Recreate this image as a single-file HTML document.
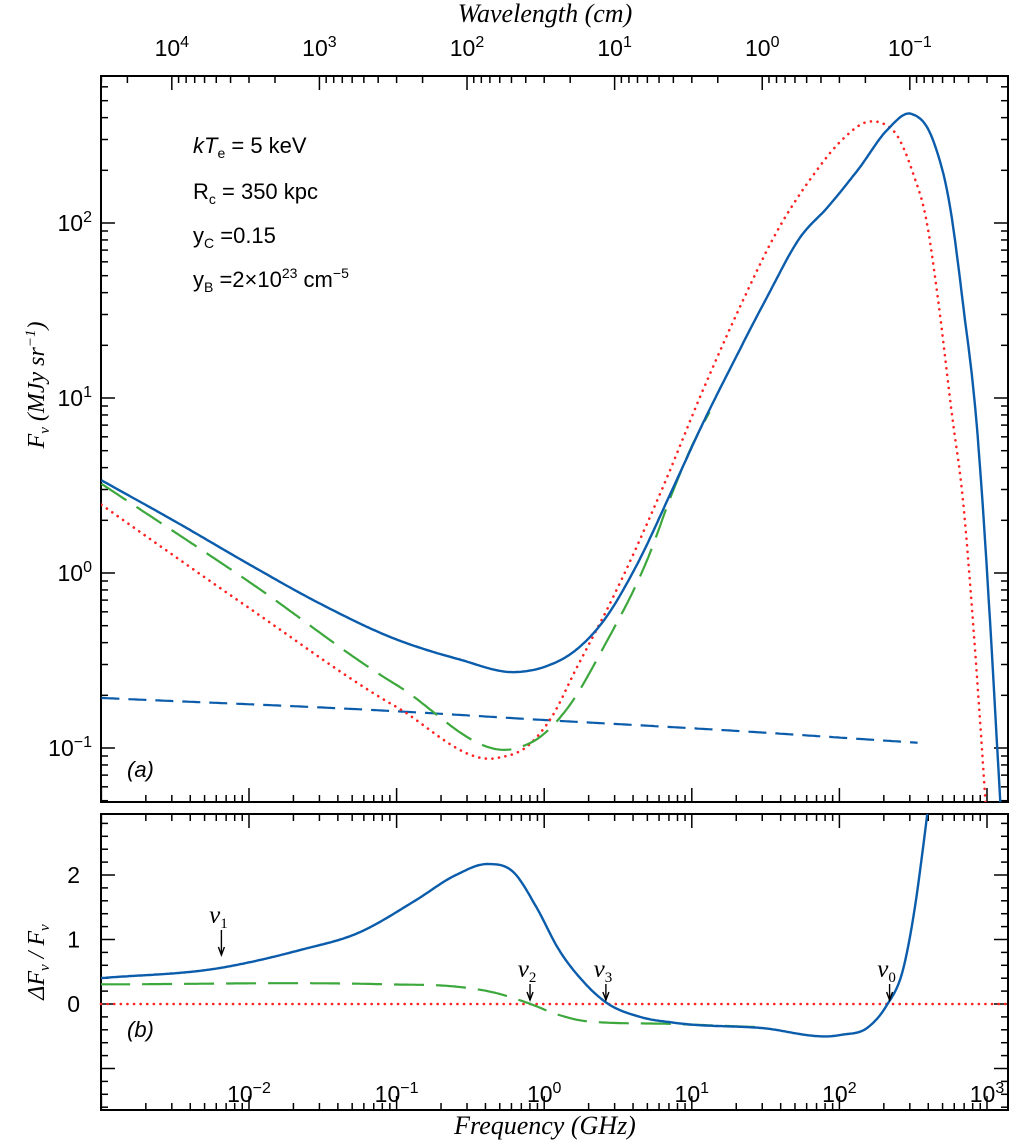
<!DOCTYPE html>
<html><head><meta charset="utf-8"><style>
html,body{margin:0;padding:0;background:#fff;}
svg{display:block;}
text{font-family:"Liberation Sans","DejaVu Sans",sans-serif;fill:#000;}
.ser{font-family:"Liberation Serif","DejaVu Serif",serif;font-style:italic;}
</style></head><body>
<svg id="chart" width="1014" height="1142" viewBox="0 0 1014 1142" xmlns="http://www.w3.org/2000/svg">
<defs>
<clipPath id="clipTop"><rect x="101" y="76" width="907" height="726"/></clipPath>
<clipPath id="clipBot"><rect x="101" y="814" width="907" height="296"/></clipPath>
</defs>
<g id="axes"></g>
<g id="series"></g>
<g id="annot"></g>
</svg>
<script>
// ---- data (log10 frequency in GHz, log10 flux in MJy/sr) ----
const totalLogNu = [-3,-2.47,-2,-1.53,-1,-0.59,-0.184,0,0.215,0.405,0.62,0.873,1.076,1.279,1.51,1.736,1.92,2.14,2.322,2.49,2.634,2.75,2.84,2.93,2.97,3.02,3.09];
const totalLogF  = [0.53,0.28,0.05,-0.17,-0.38,-0.49,-0.566,-0.537,-0.44,-0.27,0.034,0.486,0.857,1.2,1.577,1.92,2.09,2.32,2.53,2.623,2.474,2.09,1.52,0.85,0.40,-0.27,-1.31];
const cmbLogNu = [-3,-2,-1,-0.318,-0.1,0.053,0.215,0.46,0.804,1.076,1.326,1.576,1.82,2.024,2.187,2.363,2.498,2.593,2.66,2.77,2.83,2.92,2.99];
const cmbLogF  = [0.39,-0.2,-0.766,-1.057,-0.98,-0.82,-0.55,-0.15,0.49,1.046,1.52,1.95,2.27,2.48,2.577,2.53,2.286,2.0,1.617,0.857,0.474,-0.45,-1.31];
const thermLogNu = [-3,-2,-1,-0.184,-0.05,0.16,0.405,0.705,0.873,1.02,1.12];
const thermLogF  = [0.51,-0.05,-0.64,-1.0,-0.95,-0.77,-0.42,0.09,0.47,0.76,0.92];
const syncLogNu = [-3,-1,0,1.2,2.53];
const syncLogF  = [-0.714,-0.79,-0.84,-0.897,-0.97];
// bottom panel: relative difference
const relLogNu = [-3.009,-2.193,-1.648,-1.262,-0.869,-0.598,-0.384,-0.211,-0.055,0.1,0.256,0.412,0.649,0.879,1.462,2.007,2.2,2.315,2.436,2.512,2.573,2.63];
const relVal   = [0.40,0.56,0.84,1.10,1.61,2.0,2.17,2.05,1.51,0.84,0.37,0.036,-0.20,-0.29,-0.37,-0.48,-0.35,-0.04,0.58,1.51,2.54,3.6];
const relGreenLogNu = [-3.009,-1.065,-0.598,-0.326,-0.11,0.1,0.296,0.879,1.46];
const relGreenVal   = [0.305,0.305,0.27,0.17,0.015,-0.17,-0.27,-0.31,-0.36];
const markerNames = ["nu1","nu2","nu3","nu0"];
const markerSubs = ["1","2","3","0"];
const markerLogNu = [-2.187,-0.096,0.418,2.34];
const markerVal = [0.55,0,0,0];
const freqTickExp = [-2,-1,0,1,2,3];
const waveTickExp = [4,3,2,1,0,-1];
const fluxTickExp = [2,1,0,-1];
const relTicks = [0,1,2];

// ---- scales ----
const X0=101.4, DEC=147.6;
const xs = l => X0 + (l+3)*DEC;
const yTop = l => 573 - l*175;
const yBot = v => 1004 - v*64.5;
const NS="http://www.w3.org/2000/svg";
function mk(tag, attrs, parent){const e=document.createElementNS(NS,tag);for(const k in attrs)e.setAttribute(k,attrs[k]);parent.appendChild(e);return e;}
const axes=document.getElementById('axes'), series=document.getElementById('series'), annot=document.getElementById('annot');

function smoothPath(xv,yv,xf,yf){
  const n=xv.length, d=[], h=[], m=new Array(n);
  for(let i=0;i<n-1;i++){ h.push(xv[i+1]-xv[i]); d.push((yv[i+1]-yv[i])/h[i]); }
  m[0]=d[0]; m[n-1]=d[n-2];
  for(let i=1;i<n-1;i++){
    m[i]=(d[i-1]*h[i]+d[i]*h[i-1])/(h[i-1]+h[i]);
    if(d[i-1]*d[i]>0){
      const lim=3*Math.min(Math.abs(d[i-1]),Math.abs(d[i]));
      if(Math.abs(m[i])>lim) m[i]=Math.sign(m[i])*lim;
    }
  }
  let pts=[];
  for(let i=0;i<n-1;i++){
    const steps=Math.max(6,Math.ceil(h[i]*80));
    for(let k=(i===0?0:1);k<=steps;k++){
      const t=k/steps, t2=t*t, t3=t2*t;
      const y=(2*t3-3*t2+1)*yv[i]+(t3-2*t2+t)*h[i]*m[i]+(-2*t3+3*t2)*yv[i+1]+(t3-t2)*h[i]*m[i+1];
      pts.push(xf(xv[i]+t*h[i]).toFixed(1)+','+yf(y).toFixed(1));
    }
  }
  return 'M'+pts.join(' L');
}

const f1=mk('rect',{x:101,y:76,width:907,height:726,fill:'none',stroke:'#000','stroke-width':2},axes);


const f2=mk('rect',{x:101,y:814,width:907,height:296,fill:'none',stroke:'#000','stroke-width':2},axes);



function freqTicks(yEdge, dir){
  for(let e=-3;e<=3;e++){
    for(let m=1;m<=9;m++){
      const l=e+Math.log10(m); const x=xs(l);
      if(x<101||x>1008) continue;
      const len=m===1?14:7;
      mk('line',{x1:x,x2:x,y1:yEdge,y2:yEdge+dir*len,stroke:'#000','stroke-width':1.5},axes);
    }
  }
}
freqTicks(802,-1); freqTicks(814,1); freqTicks(1110,-1);
for(let e=-2;e<=5;e++){
  for(let m=1;m<=9;m++){
    const lam=m*Math.pow(10,e); const l=Math.log10(30/lam); const x=xs(l);
    if(x<101||x>1008) continue;
    mk('line',{x1:x,x2:x,y1:76,y2:76+(m===1?14:7),stroke:'#000','stroke-width':1.5},axes);
  }
}
for(let e=-2;e<=3;e++){
  for(let m=1;m<=9;m++){
    const y=yTop(e+Math.log10(m)); if(y<76||y>802) continue;
    const len=m===1?14:7;
    mk('line',{x1:101,x2:101+len,y1:y,y2:y,stroke:'#000','stroke-width':1.5},axes);
    mk('line',{x1:1008,x2:1008-len,y1:y,y2:y,stroke:'#000','stroke-width':1.5},axes);
  }
}
for(let k=-8;k<=14;k++){
  const v=k*0.2; const y=yBot(v); if(y<814||y>1110) continue;
  const len=(k%5===0)?14:7;
  mk('line',{x1:101,x2:101+len,y1:y,y2:y,stroke:'#000','stroke-width':1.5},axes);
  mk('line',{x1:1008,x2:1008-len,y1:y,y2:y,stroke:'#000','stroke-width':1.5},axes);
}
freqTickExp.forEach(e=>{
  const t=mk('text',{x:xs(e),y:1102,'text-anchor':'middle','font-size':23},axes);
  
  
  t.innerHTML=`10<tspan dy="-9" font-size="16">${e<0?'−'+(-e):e}</tspan>`;
});
waveTickExp.forEach(e=>{
  const t=mk('text',{x:xs(Math.log10(30)-e),y:56,'text-anchor':'middle','font-size':23},axes);
  
  
  t.innerHTML=`10<tspan dy="-9" font-size="16">${e<0?'−'+(-e):e}</tspan>`;
});
fluxTickExp.forEach(e=>{
  const t=mk('text',{x:92,y:yTop(e)+8,'text-anchor':'end','font-size':23},axes);
  
  
  t.innerHTML=`10<tspan dy="-9" font-size="16">${e<0?'−'+(-e):e}</tspan>`;
});
relTicks.forEach(v=>{
  const t=mk('text',{x:80,y:yBot(v)+8,'text-anchor':'end','font-size':23},axes);
  
  
  t.textContent=v;
});

function drawSeries(lx,ly,yf,clip,style,name){
  const p=mk('path',Object.assign({d:smoothPath(lx,ly,xs,yf),fill:'none','clip-path':`url(#${clip})`,'stroke-linejoin':'round'},style),series);
  
  
}
const BLUE='#0b5cab', GREEN='#3ca83c', RED='#ff2222';
drawSeries(syncLogNu,syncLogF,yTop,'clipTop',{stroke:BLUE,'stroke-width':2.2,'stroke-dasharray':'18 9'},'synchrotron-dashed-line');
drawSeries(cmbLogNu,cmbLogF,yTop,'clipTop',{stroke:RED,'stroke-width':2.6,'stroke-dasharray':'0.1 6.5','stroke-linecap':'round'},'cmb-dotted-line');
drawSeries(thermLogNu,thermLogF,yTop,'clipTop',{stroke:GREEN,'stroke-width':2.2,'stroke-dasharray':'30 12'},'thermal-dashed-line');
drawSeries(totalLogNu,totalLogF,yTop,'clipTop',{stroke:BLUE,'stroke-width':2.4},'total-solid-line');
const zl=mk('line',{x1:101,x2:1008,y1:yBot(0),y2:yBot(0),stroke:RED,'stroke-width':2.6,'stroke-dasharray':'0.1 6.5','stroke-linecap':'round'},series);


drawSeries(relGreenLogNu,relGreenVal,yBot,'clipBot',{stroke:GREEN,'stroke-width':2.2,'stroke-dasharray':'30 12'},'rel-thermal-dashed-line');
drawSeries(relLogNu,relVal,yBot,'clipBot',{stroke:BLUE,'stroke-width':2.4},'rel-total-solid-line');

markerLogNu.forEach((l,i)=>{
  const x=xs(l), yv=yBot(markerVal[i]);
  const g=mk('g',{},annot);
  
  
  const y1=i===0?930:yv-20, y2=i===0?955:yv-4;
  mk('line',{x1:x,x2:x,y1:y1,y2:y2,stroke:'#000','stroke-width':1.4},g);
  mk('path',{d:`M${x-3},${y2-8} L${x},${y2} L${x+3},${y2-8}`,fill:'none',stroke:'#000','stroke-width':1.4},g);
  const t=mk('text',{x:x-3,y:y1-7,'text-anchor':'middle','font-size':25,class:'ser'},g);
  t.innerHTML=`ν<tspan dy="5" font-size="15" font-style="normal">${markerSubs[i]}</tspan>`;
});
</script>
<div style="position:absolute;left:0;top:0;width:1014px;height:1142px;pointer-events:none;">
<svg width="1014" height="1142" viewBox="0 0 1014 1142" xmlns="http://www.w3.org/2000/svg" style="position:absolute;left:0;top:0">
<g font-size="22" style="font-family:'Liberation Sans','DejaVu Sans',sans-serif">
<text x="193" y="153"><tspan font-style="italic">kT</tspan><tspan dy="5" font-size="14">e</tspan><tspan dy="-5"> = 5  keV</tspan></text>
<text x="193" y="199">R<tspan dy="5" font-size="14">c</tspan><tspan dy="-5"> = 350  kpc</tspan></text>
<text x="193" y="243">y<tspan dy="5" font-size="14">C</tspan><tspan dy="-5"> =0.15</tspan></text>
<text x="193" y="287">y<tspan dy="5" font-size="14">B</tspan><tspan dy="-5"> =2×10</tspan><tspan dy="-9" font-size="14">23</tspan><tspan dy="9"> cm</tspan><tspan dy="-9" font-size="14">−5</tspan></text>
</g>
<text x="127" y="777" font-size="22" font-style="italic" style="font-family:'Liberation Sans',sans-serif">(a)</text>
<text x="127" y="1037" font-size="22" font-style="italic" style="font-family:'Liberation Sans',sans-serif">(b)</text>
<text x="545" y="1134" text-anchor="middle" font-size="26" style="font-family:'Liberation Serif',serif;font-style:italic">Frequency (GHz)</text>
<text x="545" y="22" text-anchor="middle" font-size="26" style="font-family:'Liberation Serif',serif;font-style:italic">Wavelength (cm)</text>
<text transform="translate(44,385) rotate(-90)" text-anchor="middle" font-size="24" style="font-family:'Liberation Serif',serif;font-style:italic">F<tspan dy="5" font-size="15">ν</tspan><tspan dy="-5"> (MJy sr</tspan><tspan dy="-9" font-size="15">−1</tspan><tspan dy="9">)</tspan></text>
<text transform="translate(44,962) rotate(-90)" text-anchor="middle" font-size="24" style="font-family:'Liberation Serif',serif;font-style:italic">ΔF<tspan dy="5" font-size="15">ν</tspan><tspan dy="-5"> / F</tspan><tspan dy="5" font-size="15">ν</tspan></text>
</svg>
</div>
</body></html>
